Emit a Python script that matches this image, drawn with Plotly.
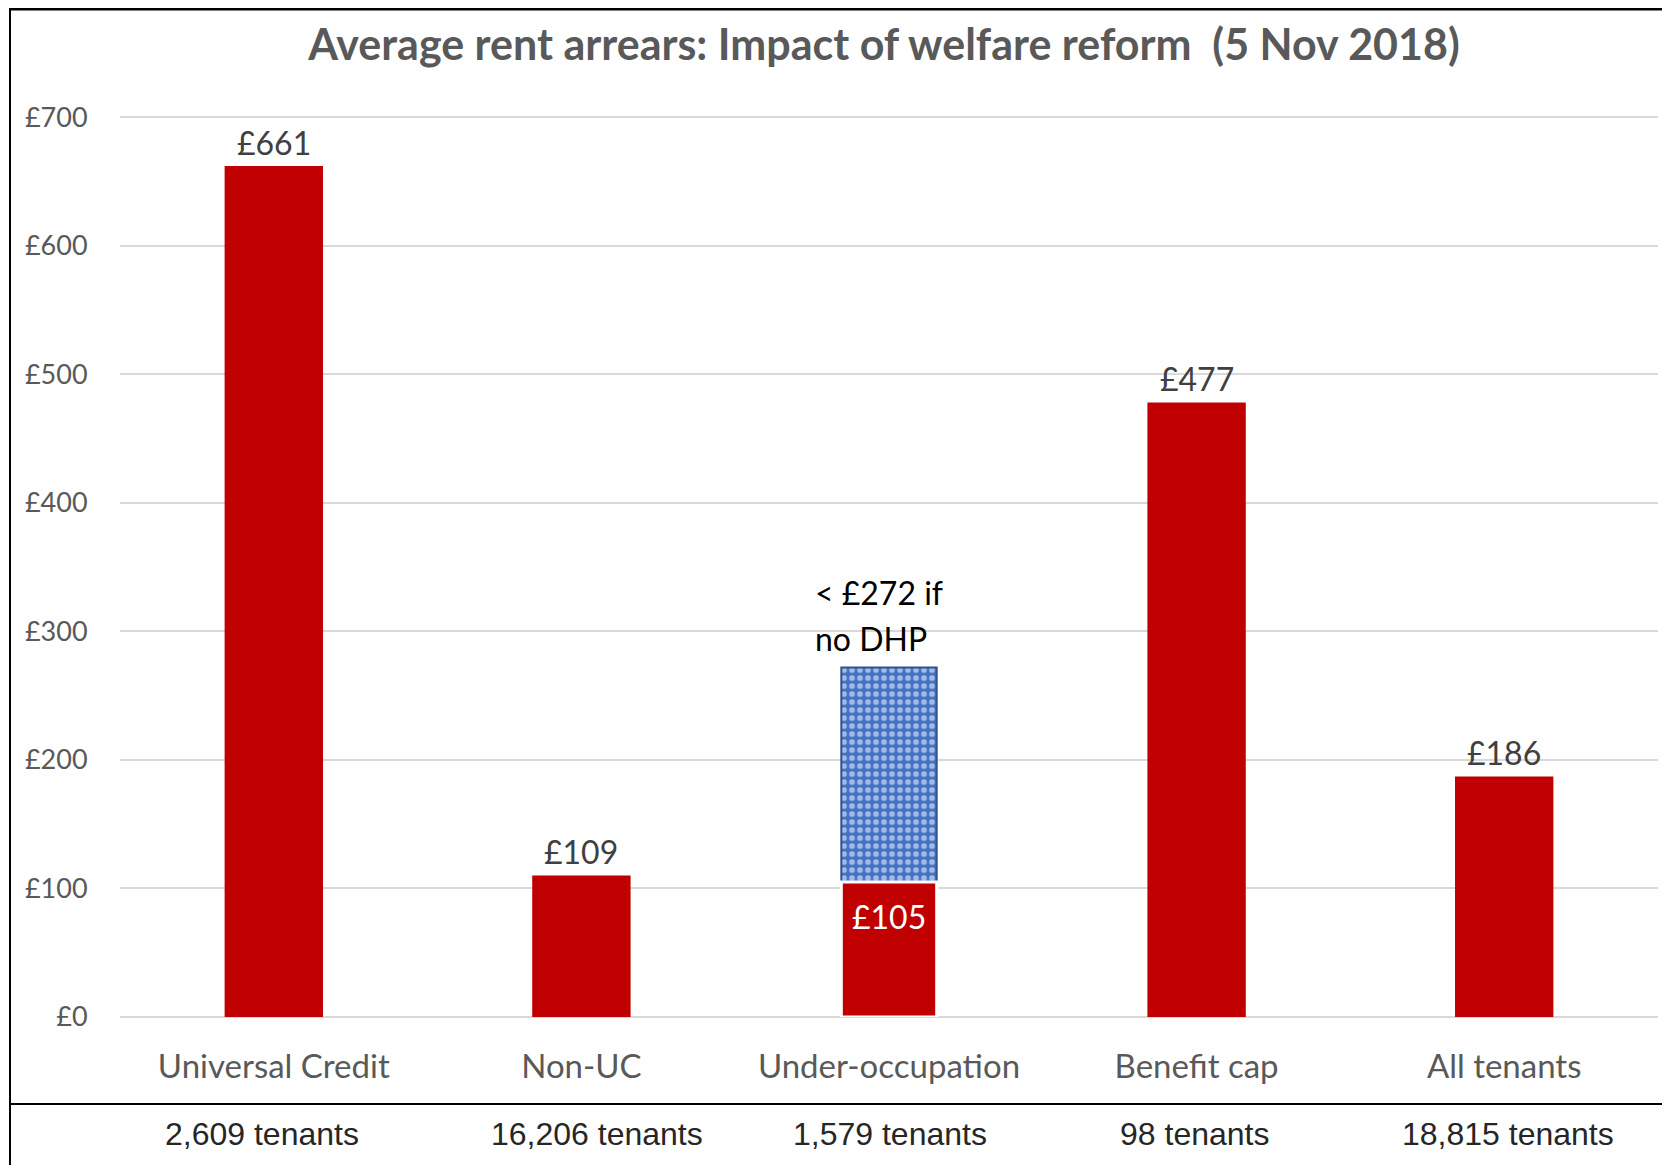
import plotly.graph_objects as go

# ---- data ----
categories = ["Universal Credit", "Non-UC", "Under-occupation", "Benefit cap", "All tenants"]
avg_arrears = [661, 109, 105, 477, 186]
tenant_counts = ["2,609", "16,206", "1,579", "98", "18,815"]
no_dhp_category = "Under-occupation"
no_dhp_value = 272
title_text = "Average rent arrears: Impact of welfare reform  (5 Nov 2018)"
y_ticks = [0, 100, 200, 300, 400, 500, 600, 700]
y_tick_labels = [f"£{v}" for v in y_ticks]

# ---- layout constants (pixels) ----
OFF = 8                      # page body margin
W, H = 1670 - OFF, 1165 - OFF
ML, MR, MT, MB = 112, 12, 58, 148
PW, PH = W - ML - MR, H - MT - MB
TABLE_XSHIFT = [-12, 16, 1, -2, 4]   # table cell offsets relative to bar centres


def px_x(px):
    """page pixel -> paper x"""
    return (px - OFF - ML) / PW


def px_y(py):
    """page pixel -> paper y"""
    return (H - MB - (py - OFF)) / PH


CAL = "Lato, 'Open Sans', sans-serif"
ARIAL = "'Liberation Sans', Arial, sans-serif"
RED = "#C00000"

fig = go.Figure()

# blue patterned bar (arrears if no DHP)
idx = categories.index(no_dhp_category)
fig.add_trace(go.Bar(
    x=[no_dhp_category],
    y=[no_dhp_value - avg_arrears[idx]],
    base=[avg_arrears[idx]],
    marker=dict(
        color="#4472C4",
        line=dict(color="#2F528F", width=2),
        pattern=dict(shape=".", fgcolor="white", bgcolor="#4472C4", size=8, solidity=0.4),
    ),
    hoverinfo="skip",
    showlegend=False,
))

# red bars (white edge only where the stacked blue bar sits on top)
fig.add_trace(go.Bar(
    x=categories,
    y=avg_arrears,
    marker=dict(
        color=RED,
        line=dict(color=["white" if c == no_dhp_category else RED for c in categories], width=3),
    ),
    showlegend=False,
))

annotations = []
for cat, v, n, xs in zip(categories, avg_arrears, tenant_counts, TABLE_XSHIFT):
    if cat == no_dhp_category:
        annotations.append(dict(
            x=cat, y=v, xref="x", yref="y", text=f"£{v}", showarrow=False,
            yanchor="top", yshift=-13,
            font=dict(family=CAL, size=32, color="white"),
        ))
    else:
        annotations.append(dict(
            x=cat, y=v, xref="x", yref="y", text=f"£{v}", showarrow=False,
            yanchor="bottom", yshift=4,
            font=dict(family=CAL, size=32, color="#404040"),
        ))
    annotations.append(dict(
        x=cat, y=px_y(1134), xref="x", yref="paper", text=f"{n} tenants",
        showarrow=False, yanchor="middle", xshift=xs,
        font=dict(family=ARIAL, size=32, color="#262626"),
    ))

annotations.append(dict(
    x=no_dhp_category, y=no_dhp_value, xref="x", yref="y",
    text=f"< £{no_dhp_value} if", showarrow=False,
    xanchor="left", yanchor="bottom", xshift=-76, yshift=53, align="left",
    font=dict(family=CAL, size=32, color="#000000"),
))
annotations.append(dict(
    x=no_dhp_category, y=no_dhp_value, xref="x", yref="y",
    text="no DHP", showarrow=False,
    xanchor="left", yanchor="bottom", xshift=-76, yshift=7, align="left",
    font=dict(family=CAL, size=32, color="#000000"),
))

shapes = [
    # top border
    dict(type="line", xref="paper", yref="paper", x0=px_x(10), x1=px_x(1680),
         y0=px_y(9), y1=px_y(9), line=dict(color="#000000", width=3)),
    # left border
    dict(type="line", xref="paper", yref="paper", x0=px_x(10), x1=px_x(10),
         y0=px_y(8), y1=px_y(1175), line=dict(color="#000000", width=2)),
    # divider between chart and table
    dict(type="line", xref="paper", yref="paper", x0=px_x(10), x1=px_x(1680),
         y0=px_y(1104), y1=px_y(1104), line=dict(color="#000000", width=2)),
]

fig.update_layout(
    width=W, height=H,
    margin=dict(l=ML, r=MR, t=MT, b=MB),
    paper_bgcolor="white", plot_bgcolor="white",
    barmode="overlay", bargap=0.69,
    title=dict(text=f"<b>{title_text}</b>", x=(884 - OFF) / W, xanchor="center",
               xref="container",
               y=1 - (45 - OFF) / H, yanchor="middle", yref="container",
               font=dict(family=CAL, size=43, color="#595959")),
    annotations=annotations,
    shapes=shapes,
)

fig.update_yaxes(
    range=[0, 740], tickvals=y_ticks, ticktext=y_tick_labels,
    showgrid=True, gridcolor="#D9D9D9", gridwidth=2,
    zeroline=True, zerolinecolor="#D9D9D9", zerolinewidth=2,
    showline=False, ticks="outside", ticklen=26, tickcolor="rgba(0,0,0,0)",
    tickfont=dict(family=CAL, size=27, color="#595959"),
)
fig.update_xaxes(
    categoryorder="array", categoryarray=categories,
    showgrid=False, showline=False, ticks="outside", ticklen=20,
    tickcolor="rgba(0,0,0,0)",
    tickfont=dict(family=CAL, size=33, color="#595959"),
)

fig.write_html("out.html")
